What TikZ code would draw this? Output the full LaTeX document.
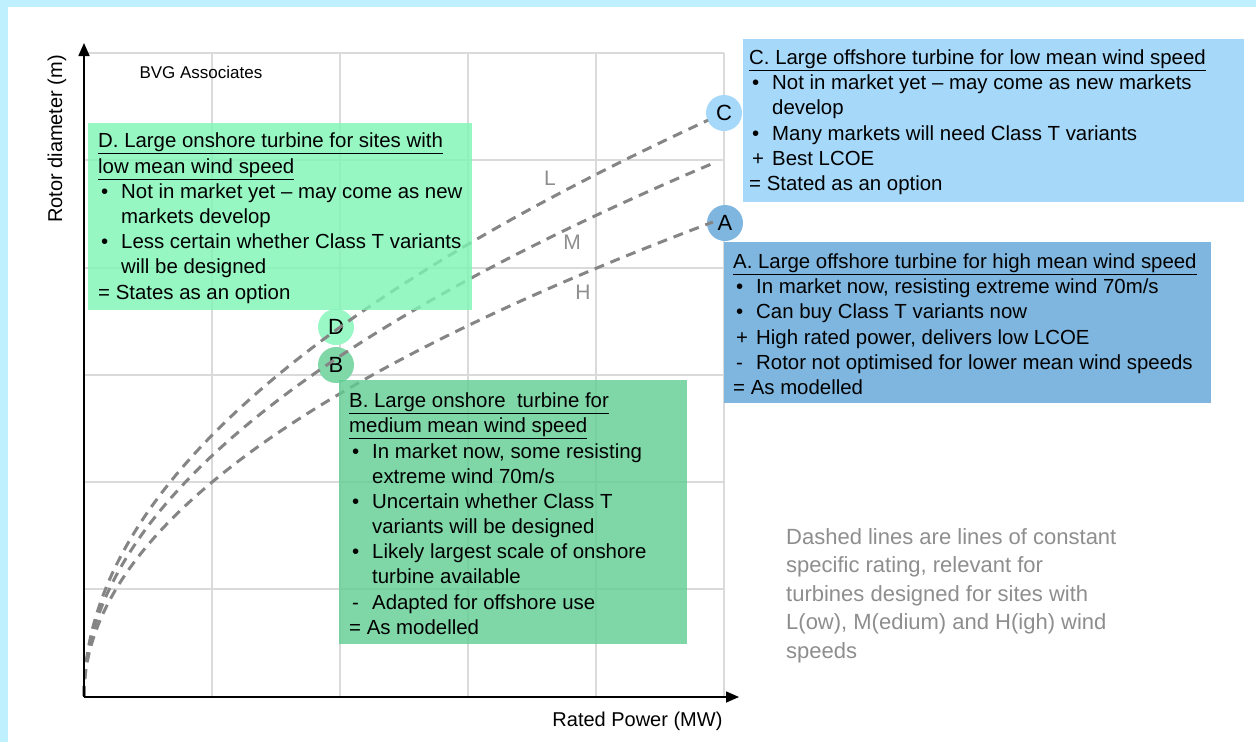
\documentclass[tikz,border=0pt]{standalone}
\usepackage{fontspec}
\setmainfont{Liberation Sans}
\usepackage{tikz}
\usetikzlibrary{arrows.meta, positioning}

\definecolor{framecyan}{HTML}{BFF0FD}
\definecolor{gridgray}{HTML}{DADADA}
\definecolor{curvegray}{HTML}{858585}
\definecolor{notegray}{HTML}{8E8E8E}
\definecolor{offlow}{HTML}{A6D8FA}
\definecolor{offhigh}{HTML}{7FB6DF}
\definecolor{onlow}{HTML}{99F8C6}
\definecolor{onmed}{HTML}{80D7A8}
\definecolor{onlowfill}{HTML}{7EF6B5}
\definecolor{onmedfill}{HTML}{60CD92}

% bullet / sign in front of a line, and the indent of a wrapped line
\newcommand{\itm}[2]{\makebox[23pt][l]{\hspace{3pt}#1}#2}
\newcommand{\cont}[1]{\hspace*{23pt}#1}

\begin{document}
\begin{tikzpicture}[x=1pt, y=-1pt,
    gridline/.style={draw=gridgray, line width=1.5pt},
    axis/.style={line width=1.6pt, -{Triangle[length=13pt, width=11pt]}},
    rating/.style={draw=curvegray, line width=3pt, dash pattern=on 10pt off 7pt},
    boxtext/.style={anchor=west, align=left, inner sep=0pt, yshift=-1.5pt, font=\fontsize{20.4}{25.2}\selectfont},
    tag/.style={circle, inner sep=0pt, minimum size=36pt, font=\fontsize{22}{22}\selectfont},
    curvelabel/.style={text=notegray, font=\fontsize{21}{21}\selectfont}]
    \useasboundingbox (0,0) rectangle (1256,742);
    \fill[framecyan] (0,0) rectangle (1256,742);
    \fill[white] (8,7) rectangle (1256,742);

    % Grid
    \foreach \x in {212,340,468,596,724}
        \draw[gridline] (\x,53) -- (\x,696);
    \foreach \y in {53,160,268,375,482,589}
        \draw[gridline] (84,\y) -- (724,\y);

    % Turbine markers
    \node [tag, fill=offlow] (C) at (724,113) {C};
    \node [tag, fill=offhigh] (A) at (725,223) {A};
    \node [tag, fill=onlow] (D) at (336,327) {D};
    \node [tag, fill=onmed] (B) at (336,365) {B};

    % Lines of constant specific rating
    \foreach \k/\tend in {23.05/24.98, 21.24/25.14, 18.9/25.08}
        \draw [rating] plot [domain=0:\tend, samples=90, variable=\t] ({84+\t*\t}, {696-\k*\t});
    \node [curvelabel] (L) at (550,178) {L};
    \node [curvelabel] (M) at (572,242) {M};
    \node [curvelabel] (H) at (583,292) {H};

    % Boxes
    \node [anchor=north west, fill=onlowfill, fill opacity=0.8, minimum width=384pt, minimum height=187pt] (dbox) at (88,123) {};
    \node [anchor=north west, fill=onmedfill, fill opacity=0.8, minimum width=348pt, minimum height=264pt] (bbox) at (339,380) {};
    \node [anchor=north west, fill=offlow, minimum width=501pt, minimum height=163pt] (cbox) at (743,39) {};
    \node [anchor=north west, fill=offhigh, minimum width=487pt, minimum height=161pt] (abox) at (724,242) {};

    \node [boxtext, right=6pt of cbox.west] (ctext) {%
        \underline{C. Large offshore turbine for low mean wind speed}\\
        \itm{\textbullet}{Not in market yet -- may come as new markets}\\
        \cont{develop}\\
        \itm{\textbullet}{Many markets will need Class T variants}\\
        \itm{+}{Best LCOE}\\
        = Stated as an option};
    \node [boxtext, right=9pt of abox.west] (atext) {%
        \underline{A. Large offshore turbine for high mean wind speed}\\
        \itm{\textbullet}{In market now, resisting extreme wind 70m/s}\\
        \itm{\textbullet}{Can buy Class T variants now}\\
        \itm{+}{High rated power, delivers low LCOE}\\
        \itm{-}{Rotor not optimised for lower mean wind speeds}\\
        = As modelled};
    \node [boxtext, right=10pt of dbox.west] (dtext) {%
        \underline{D. Large onshore turbine for sites with}\\
        \underline{low mean wind speed}\\
        \itm{\textbullet}{Not in market yet -- may come as new}\\
        \cont{markets develop}\\
        \itm{\textbullet}{Less certain whether Class T variants}\\
        \cont{will be designed}\\
        = States as an option};
    \node [boxtext, right=10pt of bbox.west] (btext) {%
        \underline{B. Large onshore\ \ turbine for}\\
        \underline{medium mean wind speed}\\
        \itm{\textbullet}{In market now, some resisting}\\
        \cont{extreme wind 70m/s}\\
        \itm{\textbullet}{Uncertain whether Class T}\\
        \cont{variants will be designed}\\
        \itm{\textbullet}{Likely largest scale of onshore}\\
        \cont{turbine available}\\
        \itm{-}{Adapted for offshore use}\\
        = As modelled};

    % Axes
    \coordinate (O) at (84,697);
    \coordinate (ytip) at (84,43);
    \coordinate (xtip) at (739,697);
    \draw [axis] (O) -- (ytip);
    \draw [axis] (O) -- (xtip);
    \node [rotate=90, font=\fontsize{20}{20}\selectfont] (ylabel) at (57,139) {Rotor diameter (m)};
    \node [anchor=east, font=\fontsize{20}{20}\selectfont] (xlabel) at (726,721) {Rated Power (MW)};
    \node [anchor=west, font=\fontsize{17}{17}\selectfont] (bvg) at (136,72) {BVG Associates};

    % Note
    \node [anchor=north west, align=left, inner sep=0pt, text=notegray,
           font=\fontsize{22}{28.5}\selectfont] (note) at (786,528)
        {Dashed lines are lines of constant\\
         specific rating, relevant for\\
         turbines designed for sites with\\
         L(ow), M(edium) and H(igh) wind\\
         speeds};
\end{tikzpicture}
\end{document}
